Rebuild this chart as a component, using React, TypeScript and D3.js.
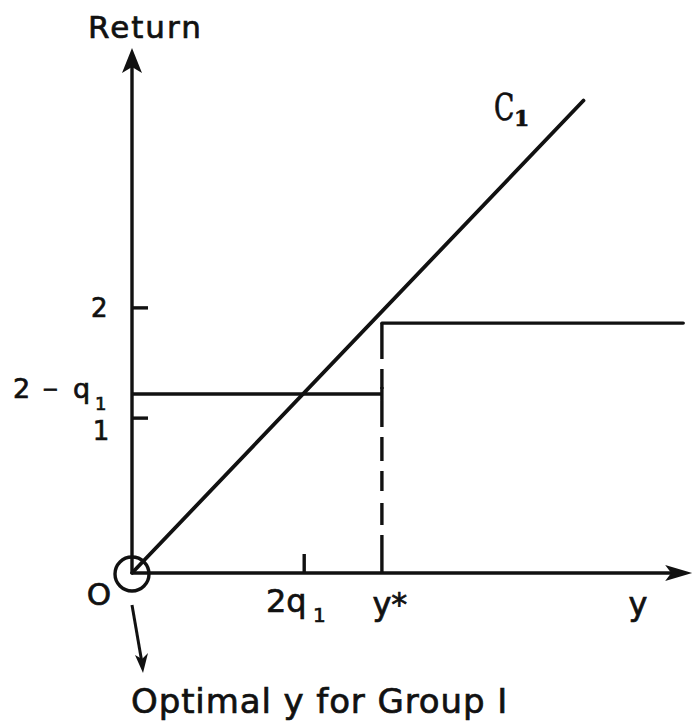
import React from "react";
import * as d3 from "d3";

// Schematic values (in drawing units)
const yAxisTop = 10;
const xAxisEnd = 10.67;
const yTickValues = [2.95, 5.05];
const yTickLabels = ["1", "2"];
const xTickValues = [3.28, 4.76];
const xTickLabels = ["2q1", "y*"];
const lowLevel = 3.41; // 2 - q1
const highLevel = 4.76;
const yStar = 4.76;
const stepEnd = 10.5;
const c1Line: [number, number][] = [
  [0, 0],
  [8.6, 9.0],
];

const W = 693;
const H = 728;

export default function App() {
  const x = d3.scaleLinear().domain([0, 10]).range([132, 657]);
  const y = d3.scaleLinear().domain([0, 10]).range([573, 48]);
  const line = d3
    .line<[number, number]>()
    .x((d) => x(d[0]))
    .y((d) => y(d[1]));

  const ox = x(0);
  const oy = y(0);
  const yTip = y(yAxisTop);
  const xTip = x(xAxisEnd);
  const stroke = "#111";
  const font = "'DejaVu Sans', sans-serif";
  const ts = { fill: stroke, stroke: stroke, strokeWidth: 0.7 };
  const lw = 3.4;

  return (
    <svg
      width={W}
      height={H}
      style={{ position: "absolute", left: 0, top: 0, background: "#fff" }}
    >
      <rect width={W} height={H} fill="#fff" />
      {/* Y axis */}
      <line x1={ox} y1={oy} x2={ox} y2={yTip + 14} stroke={stroke} strokeWidth={lw} />
      <path
        d={`M${ox},${yTip} L${ox + 10},${yTip + 25} L${ox},${yTip + 19} L${ox - 10},${yTip + 25} Z`}
        fill={stroke}
      />
      {/* X axis */}
      <line x1={ox} y1={oy} x2={xTip - 12} y2={oy} stroke={stroke} strokeWidth={lw} />
      <path
        d={`M${xTip},${oy} L${xTip - 27},${oy - 8} L${xTip - 21},${oy} L${xTip - 27},${oy + 8} Z`}
        fill={stroke}
      />
      {/* y ticks */}
      {yTickValues.map((v, i) => (
        <line key={"yt" + i} x1={ox} x2={ox + 16} y1={y(v)} y2={y(v)} stroke={stroke} strokeWidth={lw} />
      ))}
      {/* x tick at 2q1 */}
      <line x1={x(xTickValues[0])} x2={x(xTickValues[0])} y1={oy} y2={oy - 19} stroke={stroke} strokeWidth={lw} />
      {/* C1 line */}
      <path d={line(c1Line) || ""} stroke={stroke} strokeWidth={3.8} fill="none" strokeLinecap="round" />
      {/* lower step */}
      <path
        d={line([
          [0, lowLevel],
          [yStar, lowLevel],
        ]) || ""}
        stroke={stroke}
        strokeWidth={lw}
        fill="none"
      />
      <line x1={x(yStar)} x2={x(yStar)} y1={y(lowLevel) - 7} y2={y(lowLevel) + 7} stroke={stroke} strokeWidth={lw} />
      {/* upper step */}
      <path
        d={line([
          [yStar, highLevel],
          [stepEnd, highLevel],
        ]) || ""}
        stroke={stroke}
        strokeWidth={lw}
        fill="none"
        strokeLinecap="round"
      />
      {/* dashed vertical at y* */}
      <path
        d={line([
          [yStar, highLevel],
          [yStar, 0],
        ]) || ""}
        stroke={stroke}
        strokeWidth={lw}
        fill="none"
        strokeDasharray="36 10 20 12 26 10 24 10 20 12 22 10 60"
      />
      {/* origin circle */}
      <circle cx={ox} cy={oy + 1} r={17} fill="none" stroke={stroke} strokeWidth={lw} />
      {/* pointer arrow */}
      <line x1={ox} y1={oy + 32} x2={ox + 10} y2={oy + 90} stroke={stroke} strokeWidth={3} />
      <path
        d={`M${ox + 11},${oy + 100} L${ox + 3},${oy + 82} L${ox + 10},${oy + 86} L${ox + 16},${oy + 80} Z`}
        fill={stroke}
      />

      {/* Labels */}
      <text x={88} y={38} fontFamily={font} fontSize={31} letterSpacing={2} {...ts}>
        Return
      </text>
      <text x={x(yStar) + 113} y={120} fontFamily="'DejaVu Serif', serif" fontSize={38} {...ts}
        transform={`translate(${494 - (x(yStar) + 113) * 0.7},0) scale(0.7,1)`}>
        C
      </text>
      <text x={514} y={126} fontFamily="'DejaVu Serif', serif" fontSize={22} fontWeight="bold" {...ts}>
        1
      </text>
      {/* y tick labels */}
      <text x={91} y={y(yTickValues[1]) + 9} fontFamily={font} fontSize={26} {...ts}>
        {yTickLabels[1]}
      </text>
      <text x={101} y={440} fontFamily={font} fontSize={26} textAnchor="middle" {...ts}>
        {yTickLabels[0]}
      </text>
      {/* 2 - q1 */}
      <text x={13} y={y(lowLevel) + 4} fontFamily={font} fontSize={27} {...ts}>
        2
      </text>
      <text x={42} y={y(lowLevel) + 2} fontFamily={font} fontSize={20} {...ts}>
        −
      </text>
      <text x={73} y={y(lowLevel) + 4} fontFamily={font} fontSize={27} {...ts}>
        q
      </text>
      <text x={95} y={y(lowLevel) + 16} fontFamily={font} fontSize={18} {...ts}>
        1
      </text>
      {/* origin label */}
      <text x={99} y={605} fontFamily={font} fontSize={31} textAnchor="middle" {...ts}>
        O
      </text>
      {/* x tick labels */}
      <text x={266} y={612} fontFamily={font} fontSize={32} {...ts}>
        2q
      </text>
      <text x={313} y={622} fontFamily={font} fontSize={20} {...ts}>
        1
      </text>
      <text x={x(xTickValues[1]) + 8} y={615} fontFamily={font} fontSize={32} textAnchor="middle" {...ts}>
        {xTickLabels[1]}
      </text>
      <text x={638} y={615} fontFamily={font} fontSize={32} textAnchor="middle" {...ts}>
        y
      </text>
      <text x={131} y={713} fontFamily={font} fontSize={34} letterSpacing={0.9} {...ts}>
        Optimal y for Group I
      </text>
    </svg>
  );
}
